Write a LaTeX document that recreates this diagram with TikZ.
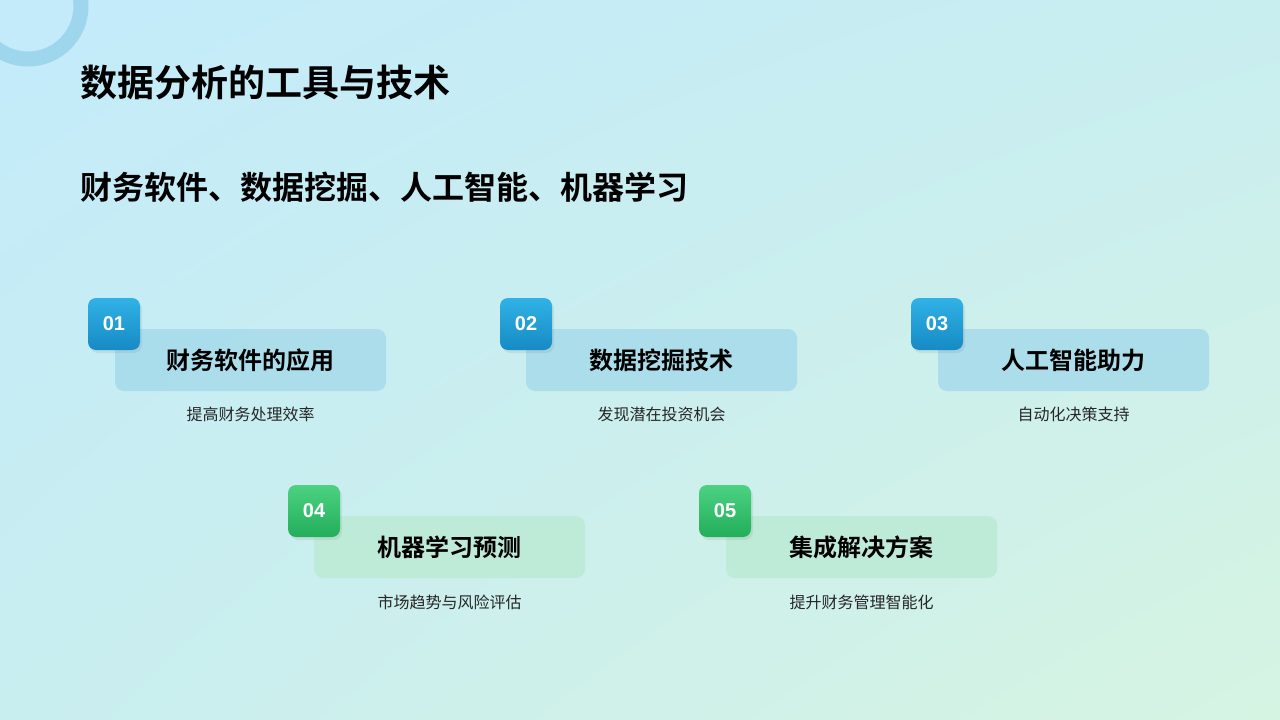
\documentclass[tikz,border=0pt]{standalone}
\usepackage{fontspec}
\setmainfont{Noto Sans CJK SC}
\newfontfamily\cjkb{Noto Sans CJK SC Bold}
\newfontfamily\numf{Liberation Sans}
\usetikzlibrary{shadows,shadings}
\definecolor{bgA}{HTML}{C3EBFA}
\definecolor{bgB}{HTML}{C9EEF0}
\definecolor{bgC}{HTML}{D6F4E2}
\definecolor{ringc}{HTML}{9ED6EE}
\definecolor{cardB}{HTML}{A6DBEA}
\definecolor{cardG}{HTML}{BDEBD6}
\definecolor{badB1}{HTML}{31B2E6}
\definecolor{badB2}{HTML}{168AC4}
\definecolor{badG1}{HTML}{4CD282}
\definecolor{badG2}{HTML}{22AE5A}
\tikzset{
 card/.style={rounded corners=9pt, minimum width=271pt, minimum height=62pt, inner sep=0pt, font=\cjkb\fontsize{24}{28}\selectfont},
 cardb/.style={card, fill=cardB, fill opacity=0.85, text opacity=1},
 cardg/.style={card, fill=cardG, fill opacity=0.9, text opacity=1},
 badge/.style={rounded corners=8pt, minimum width=52pt, minimum height=52pt, inner sep=0pt, text=white, font=\numf\bfseries\fontsize{20}{24}\selectfont, drop shadow={opacity=0.15, shadow xshift=2pt, shadow yshift=-3pt}},
 badgeb/.style={badge, top color=badB1, bottom color=badB2},
 badgeg/.style={badge, top color=badG1, bottom color=badG2},
 desc/.style={font=\fontsize{16}{19}\selectfont, text=black!85},
}
\begin{document}
\begin{tikzpicture}[x=1pt,y=-1pt]
\shade[upper left=bgA, upper right=bgB, lower left=bgB, lower right=bgC] (0,0) rectangle (1280,720);
\useasboundingbox (0,0) rectangle (1280,720);
\begin{scope}
\clip (0,0) rectangle (1280,720);
\draw[ringc, line width=15pt] (28,6) circle (53);
\end{scope}
\node[anchor=west, font=\cjkb\fontsize{37}{42}\selectfont] (title) at (77,83) {数据分析的工具与技术};
\node[anchor=west, font=\cjkb\fontsize{32}{36}\selectfont] (sub) at (77,187) {财务软件、数据挖掘、人工智能、机器学习};

\node[cardb] (c1) at (250.5,360) {财务软件的应用};
\node[badgeb] (b1) at (114,324) {01};
\node[desc] (d1) at (250.5,414) {提高财务处理效率};

\node[cardb] (c2) at (661.5,360) {数据挖掘技术};
\node[badgeb] (b2) at (526,324) {02};
\node[desc] (d2) at (661.5,414) {发现潜在投资机会};

\node[cardb] (c3) at (1073.5,360) {人工智能助力};
\node[badgeb] (b3) at (937,324) {03};
\node[desc] (d3) at (1073.5,414) {自动化决策支持};

\node[cardg] (c4) at (449.5,547) {机器学习预测};
\node[badgeg] (b4) at (314,511) {04};
\node[desc] (d4) at (449.5,602) {市场趋势与风险评估};

\node[cardg] (c5) at (861.5,547) {集成解决方案};
\node[badgeg] (b5) at (725,511) {05};
\node[desc] (d5) at (861.5,602) {提升财务管理智能化};
\end{tikzpicture}
\end{document}
